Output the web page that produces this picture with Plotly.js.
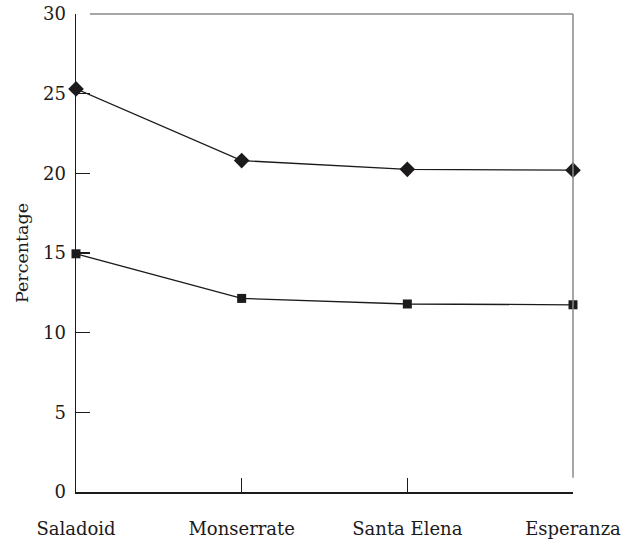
<!DOCTYPE html>
<html>
<head>
<meta charset="utf-8">
<script src="https://cdn.plot.ly/plotly-3.0.1.min.js"></script>
<style>html,body{margin:0;padding:0;background:#fff;}#chart{width:630px;height:543px;}</style>
</head>
<body>
<div id="chart"></div>
<script>
const categories = ["Saladoid", "Monserrate", "Santa Elena", "Esperanza"];
const seriesDiamond = [25.3, 20.8, 20.25, 20.2];
const seriesSquare = [14.95, 12.15, 11.8, 11.75];
const yTicks = [0, 5, 10, 15, 20, 25, 30];

const ink = "#1c1a1b";
const fam = "DejaVu Serif, Liberation Serif, serif";

const traces = [
  {x: categories, y: seriesDiamond, type: "scatter", mode: "lines+markers",
   line: {color: ink, width: 1.3}, marker: {symbol: "diamond", size: 12, color: ink},
   cliponaxis: false, showlegend: false},
  {x: categories, y: seriesSquare, type: "scatter", mode: "lines+markers",
   line: {color: ink, width: 1.3}, marker: {symbol: "square", size: 9, color: ink},
   cliponaxis: false, showlegend: false}
];

const layout = {
  width: 630, height: 543,
  margin: {l: 76, r: 57, t: 14, b: 51},
  paper_bgcolor: "#fff", plot_bgcolor: "#fff",
  font: {family: fam, size: 17, color: ink},
  xaxis: {type: "category", range: [0, 3], showgrid: false, zeroline: false,
    showline: true, linecolor: ink, linewidth: 1.5,
    ticks: "inside", ticklen: 14, tickwidth: 1.3, tickcolor: ink,
    ticklabelstandoff: 20, tickfont: {family: fam, size: 18, color: ink}},
  yaxis: {range: [0, 30], tickvals: yTicks, showgrid: false, zeroline: false,
    showline: true, linecolor: ink, linewidth: 1.5,
    ticks: "inside", ticklen: 14, tickwidth: 1.3, tickcolor: ink,
    ticklabelstandoff: 5, tickfont: {family: fam, size: 18, color: ink},
    title: {text: "Percentage", font: {family: fam, size: 17.5, color: ink}, standoff: 10}},
  shapes: [
    {type: "line", xref: "paper", yref: "paper", x0: 0.028, x1: 1, y0: 1, y1: 1, line: {color: "#8a8a8a", width: 1.5}},
    {type: "line", xref: "paper", yref: "paper", x0: 1, x1: 1, y0: 0.03, y1: 1, line: {color: "#8a8a8a", width: 1.5}}
  ]
};

Plotly.newPlot("chart", traces, layout, {displayModeBar: false, staticPlot: true});
</script>
</body>
</html>
